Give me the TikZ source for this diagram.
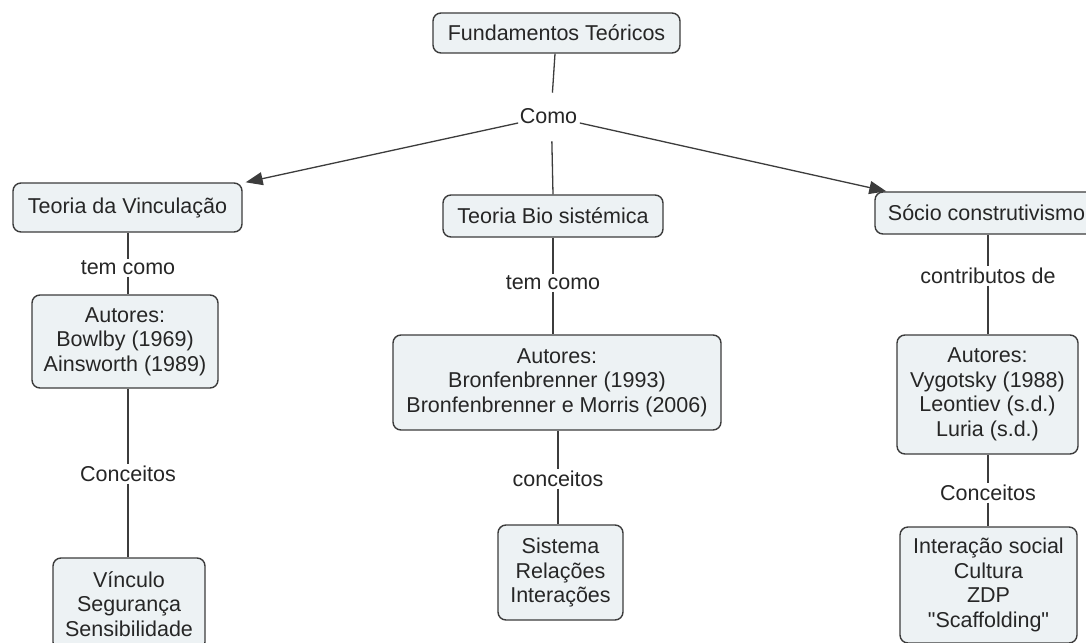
\documentclass[tikz,border=0pt]{standalone}
\usepackage{fontspec}
\setmainfont{Liberation Sans}
\newfontfamily\qfont{Liberation Sans}
\usetikzlibrary{arrows.meta}
\definecolor{boxfill}{HTML}{EDF2F4}
\definecolor{boxline}{HTML}{3C3C3C}
\definecolor{txt}{HTML}{262626}
\begin{document}
\begin{tikzpicture}[x=1pt,y=-1pt,
  font=\fontsize{21.5}{24.5}\selectfont, text=txt,
  concept/.style={draw=boxline, line width=1.4pt, fill=boxfill, rounded corners=8pt, align=center, inner sep=0pt},
  linklabel/.style={inner sep=1.5pt, fill=white},
  conn/.style={draw=boxline, line width=1.3pt},
  arr/.style={conn, -{Triangle[length=17pt,width=13pt]}}]
\useasboundingbox[fill=white] (0,0) rectangle (1086,642);

% concepts
\node[concept, minimum width=247pt, minimum height=40pt] (F) at (556.5,33) {Fundamentos Teóricos};
\node[concept, minimum width=229pt, minimum height=49pt] (TV) at (127.5,207.5) {Teoria da Vinculação};
\node[concept, minimum width=220pt, minimum height=42pt] (TB) at (553,216) {Teoria Bio sistémica};
\node[concept, minimum width=223pt, minimum height=42pt] (SC) at (986.5,213) {Sócio construtivismo};
\node[concept, minimum width=186pt, minimum height=93pt] (A1) at (125,341.5) {Autores:\\Bowlby (1969)\\Ainsworth (1989)};
\node[concept, minimum width=328pt, minimum height=95pt] (A2) at (557,382.5) {Autores:\\Bronfenbrenner (1993)\\Bronfenbrenner e Morris (2006)};
\node[concept, minimum width=181pt, minimum height=119pt] (A3) at (987.5,394.5) {Autores:\\Vygotsky (1988)\\Leontiev (s.d.)\\Luria (s.d.)};
\node[concept, minimum width=152pt, minimum height=92pt] (C1) at (129,604) {Vínculo\\Segurança\\Sensibilidade};
\node[concept, minimum width=125pt, minimum height=95pt] (C2) at (560.5,572.5) {Sistema\\Relações\\Interações};
\node[concept, minimum width=177pt, minimum height=116pt] (C3) at (988.5,585) {Interação social\\Cultura\\ZDP\\{\qfont"Scaffolding"}};

% linking phrases
\node[linklabel] (como) at (548.5,116) {Como};
\node[linklabel] (l1) at (128,268) {tem como};
\node[linklabel] (l2) at (553,283) {tem como};
\node[linklabel] (l3) at (988,276) {contributos de};
\node[linklabel] (l4) at (128,474) {Conceitos};
\node[linklabel] (l5) at (558,479) {conceitos};
\node[linklabel] (l6) at (988,493) {Conceitos};

% connectors
\draw[conn, shorten >=14pt] ([xshift=-1.5pt]F.south) -- ([xshift=3pt]como.north);
\draw[arr] ([yshift=-7pt]como.west) -- ([xshift=3pt]TV.north east);
\draw[arr] ([xshift=1pt,yshift=-7pt]como.east) -- ([xshift=12pt]SC.north west);
\draw[conn, shorten <=16pt] ([xshift=3pt]como.south) -- (TB.north);

\draw[conn] (l1 |- TV.south) -- (l1) -- (l1 |- A1.north);
\draw[conn] (l4 |- A1.south) -- (l4) -- (l4 |- C1.north);
\draw[conn] (TB) -- (l2) -- (l2 |- A2.north);
\draw[conn] (l5 |- A2.south) -- (l5) -- (l5 |- C2.north);
\draw[conn] (l3 |- SC.south) -- (l3) -- (l3 |- A3.north);
\draw[conn] (l6 |- A3.south) -- (l6) -- (l6 |- C3.north);
\end{tikzpicture}
\end{document}
